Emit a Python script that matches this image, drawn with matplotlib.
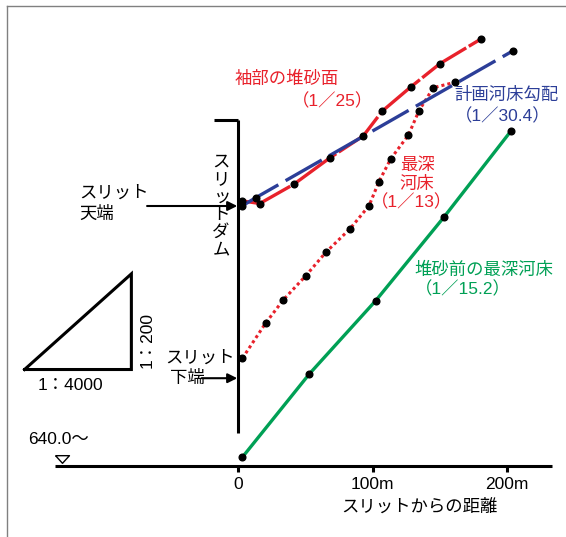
"""
スリットダム上流の河床縦断図
"""

import matplotlib.pyplot as plt

plt.rcParams['font.family'] = ['Liberation Sans', 'Noto Sans CJK JP', 'DejaVu Sans']

# スリットからの距離 (m) と標高 (m)
dist_before = [3.0, 52.9, 102.4, 153.5, 203.2]            # 堆砂前の最深河床
elev_before = [640.35, 643.70, 646.65, 650.03, 653.48]

dist_plan = [3.0, 13.2, 204.5]                             # 計画河床勾配
elev_plan = [650.47, 650.80, 656.70]

dist_wing = [2.5, 16.0, 41.5, 68.3, 93.1, 107.3, 128.5, 150.3, 180.8]   # 袖部の堆砂面
elev_wing = [650.67, 650.56, 651.34, 652.40, 653.28, 654.28, 655.25, 656.19, 657.18]

dist_deep = [3.0, 20.4, 33.5, 50.4, 65.1, 83.2, 97.4, 104.8, 113.6,
             126.7, 134.7, 145.3, 161.5]                   # 最深河床
elev_deep = [644.33, 645.75, 646.68, 647.66, 648.59, 649.54, 650.47,
             651.44, 652.36, 653.31, 654.30, 655.22, 655.44]

tick_pos = [0, 100, 200]
tick_labels = ['0', '100m', '200m']

BASE = 640.0
SLIT_TOP = 650.46
SLIT_BOTTOM = 643.53

RED = '#e8212b'
BLUE = '#2c3e98'
GREEN = '#00a055'
FS = 12.5

fig = plt.figure(figsize=(5.66, 5.37), dpi=100)
ax = fig.add_axes([0, 0, 1, 1])
ax.set_xlim(-177.6, 244.2)
ax.set_ylim(637.14, 658.75)
ax.axis('off')

# 外枠 (上と左だけ見えている)
ax.plot([-172.6, 250], [658.52, 658.52], color='#808080', lw=1)
ax.plot([-172.6, -172.6], [658.52, 636], color='#808080', lw=1)

# 系列
ax.plot(dist_before, elev_before, color=GREEN, lw=2.4, solid_capstyle='butt', zorder=3)
ax.plot(dist_wing, elev_wing, color=RED, lw=2.4, linestyle=(0, (16, 0.9)), zorder=3)
ax.plot(dist_deep, elev_deep, color=RED, lw=2.2, linestyle=(0, (1, 1)), zorder=3)
ax.plot(dist_plan, elev_plan, color=BLUE, lw=2.4, linestyle=(0, (12.5, 2.5)), zorder=4)
for xs, ys in [(dist_before, elev_before), (dist_wing, elev_wing),
               (dist_deep, elev_deep), (dist_plan, elev_plan)]:
    ax.plot(xs, ys, 'o', color='black', ms=4.8, zorder=6)

# 横軸
ax.plot([-136.6, 233.8], [BASE, BASE], color='black', lw=2.2, solid_capstyle='butt')
for t, lab in zip(tick_pos, tick_labels):
    ax.plot([t, t], [BASE, BASE - 0.26], color='black', lw=2.2, solid_capstyle='butt')
    ax.text(t, BASE - 0.76, lab, fontsize=FS, ha='center', va='center')
ax.text(134.7, 638.35, 'スリットからの距離', fontsize=FS, ha='center', va='center')

# 基準標高
tri = [(-1, 0.55), (1, 0.55), (0, -0.55), (-1, 0.55)]
ax.plot([-131.6], [BASE + 0.28], marker=tri, ms=10, mfc='white', mec='black',
        mew=1.0, ls='none')
ax.text(-156.5, 641.05, '640.0～', fontsize=FS, ha='left', va='center')

# スリットダム
ax.plot([0, 0], [653.92, 641.33], color='black', lw=2.2, solid_capstyle='butt')
ax.plot([-18.1, 0], [653.92, 653.92], color='black', lw=2.2, solid_capstyle='butt')
for i, ch in enumerate('スリットダム'):
    dx = 1.5 if ch == 'ッ' else 0
    ax.text(-12.9 + dx, 652.23 - i * 0.708, ch, fontsize=FS, ha='center', va='center')

arrow = dict(arrowstyle='-|>', color='black', lw=1.5, mutation_scale=14,
             shrinkA=0, shrinkB=0)
ax.annotate('', xy=(-0.8, SLIT_TOP), xytext=(-68.0, SLIT_TOP), arrowprops=arrow)
ax.annotate('', xy=(-0.8, SLIT_BOTTOM), xytext=(-27.3, SLIT_BOTTOM), arrowprops=arrow)
ax.text(-118.7, 650.97, 'スリット', fontsize=FS, ha='left', va='center')
ax.text(-118.7, 650.14, '天端', fontsize=FS, ha='left', va='center')
ax.text(-54.1, 644.35, 'スリット', fontsize=FS, ha='left', va='center')
ax.text(-50.9, 643.53, '下端', fontsize=FS, ha='left', va='center')

# 縮尺の三角形
ax.plot([-159.3, -79.7, -79.7, -159.3], [643.88, 643.88, 647.73, 643.88],
        color='black', lw=2.2, solid_joinstyle='miter')
ax.text(-125.4, 643.22, '1：4000', fontsize=FS, ha='center', va='center')
ax.text(-68.3, 645.07, '1：200', fontsize=FS, ha='center', va='center', rotation=90)

# 系列ラベル
ax.text(-2.5, 655.57, '袖部の堆砂面', fontsize=FS, color=RED, ha='left', va='center')
ax.text(70.5, 654.70, '（1／25）', fontsize=FS, color=RED, ha='center', va='center')
ax.text(200.2, 654.92, '計画河床勾配', fontsize=FS, color=BLUE, ha='center', va='center')
ax.text(197.3, 654.09, '（1／30.4）', fontsize=FS, color=BLUE, ha='center', va='center')
ax.text(133.2, 652.12, '最深', fontsize=FS, color=RED, ha='center', va='center')
ax.text(133.2, 651.34, '河床', fontsize=FS, color=RED, ha='center', va='center')
ax.text(129.4, 650.60, '（1／13）', fontsize=FS, color=RED, ha='center', va='center')
ax.text(183.1, 647.91, '堆砂前の最深河床', fontsize=FS, color=GREEN, ha='center', va='center')
ax.text(167.1, 647.11, '（1／15.2）', fontsize=FS, color=GREEN, ha='center', va='center')

fig.savefig('out.png', dpi=100)
